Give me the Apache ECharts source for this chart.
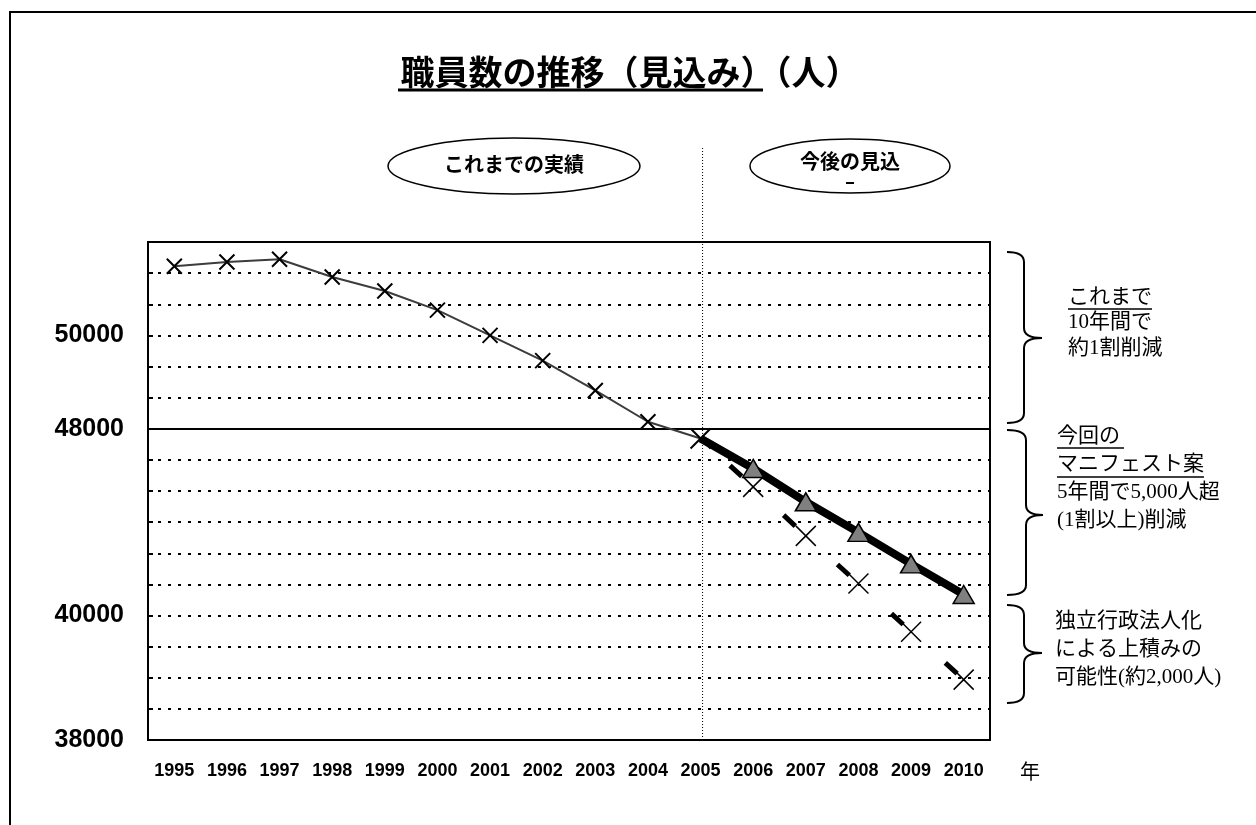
<!DOCTYPE html>
<html>
<head>
<meta charset="utf-8">
<script src="https://cdn.jsdelivr.net/npm/echarts@6/dist/echarts.min.js"></script>
<style>
  html, body { margin: 0; padding: 0; background: #fff; }
  #main { width: 1256px; height: 825px; }
</style>
</head>
<body>
<div id="main"></div>
<script>
// 年
const years = ['1995', '1996', '1997', '1998', '1999', '2000', '2001', '2002',
  '2003', '2004', '2005', '2006', '2007', '2008', '2009', '2010'];

// これまでの実績 (1995-2005)
const actual = [51480, 51570, 51630, 51250, 50950, 50540, 50000, 49460, 48820, 48150, 47580];
// マニフェスト案 (2005-2010)
const manifesto = [47580, 46300, 44870, 43560, 42210, 40900];
// 独立行政法人化による上積み (2005-2010)
const withAgencies = [47580, 45510, 43410, 41370, 39740, 38970];

// y axis labels shown on the original
const yTickLabels = [38000, 40000, 48000, 50000];

// the original axis is broken: each piece has its own scale
const yBreaks = [38000, 40000, 48000, 52000];
const yUnits = [0, 4, 10, 16];

function toAxis(v) {
  for (let i = 0; i < yBreaks.length - 1; i++) {
    if (v <= yBreaks[i + 1] || i === yBreaks.length - 2) {
      const t = (v - yBreaks[i]) / (yBreaks[i + 1] - yBreaks[i]);
      return yUnits[i] + t * (yUnits[i + 1] - yUnits[i]);
    }
  }
}

function labelAt(v) {
  for (const t of yTickLabels) {
    if (Math.abs(toAxis(t) - v) < 1e-6) return String(t);
  }
  return '';
}

const xMark = 'path://M0,0L10,10M10,0L0,10';
const pad = new Array(10).fill('-');

const chart = echarts.init(document.getElementById('main'));

var option = {
  animation: false,
  backgroundColor: '#ffffff',
  grid: {
    left: 148, right: 266, top: 242, bottom: 85,
    show: true, borderColor: '#000', borderWidth: 2
  },
  xAxis: {
    type: 'category',
    data: years,
    boundaryGap: true,
    axisLine: { lineStyle: { color: '#000', width: 2 } },
    axisTick: { inside: true, length: 6, lineStyle: { color: '#000', width: 2 } },
    axisLabel: {
      interval: 0, margin: 22, color: '#000',
      fontFamily: 'Liberation Sans', fontWeight: 'bold', fontSize: 18
    },
    splitLine: { show: false }
  },
  yAxis: {
    type: 'value',
    min: 0, max: 16, interval: 1,
    axisLine: { show: true, lineStyle: { color: '#000', width: 2 } },
    axisTick: { show: true, inside: true, length: 5, lineStyle: { color: '#000', width: 2 } },
    axisLabel: {
      margin: 24, color: '#000',
      fontFamily: 'Liberation Sans', fontWeight: 'bold', fontSize: 25,
      formatter: labelAt
    },
    splitLine: { show: true, lineStyle: { color: '#000', width: 2, type: [3, 7] } }
  },
  series: [
    {
      name: 'これまでの実績',
      type: 'line',
      data: actual.map(toAxis),
      symbol: xMark,
      symbolSize: function (v, p) { return p.dataIndex === 10 ? 20 : 15; },
      lineStyle: { color: '#3c3c3c', width: 2 },
      itemStyle: { color: 'transparent', borderColor: '#000', borderWidth: 2 },
      z: 5,
      markLine: {
        silent: true,
        symbol: 'none',
        label: { show: false },
        lineStyle: { color: '#000', width: 2, type: 'solid' },
        data: [{ yAxis: toAxis(48000) }]
      }
    },
    {
      name: 'マニフェスト案',
      type: 'line',
      data: pad.concat(manifesto.map(function (v, i) {
        return i === 0 ? { value: toAxis(v), symbol: 'none' } : toAxis(v);
      })),
      symbol: 'triangle',
      symbolSize: [21, 18],
      lineStyle: { color: '#000', width: 8 },
      itemStyle: { color: '#808080', borderColor: '#000', borderWidth: 1.5 },
      z: 3
    },
    {
      name: '独立行政法人化',
      type: 'line',
      data: pad.concat(withAgencies.map(function (v, i) {
        return i === 0 ? { value: toAxis(v), symbol: 'none' } : toAxis(v);
      })),
      symbol: xMark,
      symbolSize: 20,
      lineStyle: { color: '#000', width: 5, type: [16, 57], dashOffset: 33 },
      itemStyle: { color: 'transparent', borderColor: '#000', borderWidth: 1.5 },
      z: 4
    }
  ]
};

chart.setOption(option);

// decorations: title, ellipses, braces and notes
const jp = '"Noto Sans CJK JP"';
const note = '"Liberation Serif", "Noto Sans CJK JP"';
const x2005 = chart.convertToPixel({ xAxisIndex: 0 }, '2005');

function text(str, x, y, size, family, weight, align) {
  return {
    type: 'text', x: x, y: y, silent: true,
    style: {
      text: str, fill: '#000', fontSize: size, fontFamily: family,
      fontWeight: weight || 'normal', align: align || 'left', verticalAlign: 'middle'
    }
  };
}

function line(x1, y1, x2, y2, w, dash) {
  return {
    type: 'line', silent: true,
    shape: { x1: x1, y1: y1, x2: x2, y2: y2 },
    style: { stroke: '#000', lineWidth: w, lineDash: dash || null }
  };
}

function curve(x1, y1, cx, cy, x2, y2) {
  return {
    type: 'bezierCurve', silent: true,
    shape: { x1: x1, y1: y1, cpx1: cx, cpy1: cy, x2: x2, y2: y2 },
    style: { stroke: '#000', lineWidth: 2, fill: 'none' }
  };
}

// curly brace opening to the left, pointing right
function brace(x0, xv, xp, yTop, yMid, yBot) {
  const r = 10;
  return [
    curve(x0, yTop, xv, yTop, xv, yTop + r),
    line(xv, yTop + r, xv, yMid - r, 2),
    curve(xv, yMid - r, xv, yMid, xp, yMid),
    curve(xp, yMid, xv, yMid, xv, yMid + r),
    line(xv, yMid + r, xv, yBot - r, 2),
    curve(xv, yBot - r, xv, yBot, x0, yBot)
  ];
}

const notes = [
  ['これまで', 1068, 297], ['10年間で', 1068, 322], ['約1割削減', 1068, 348],
  ['今回の', 1057, 436], ['マニフェスト案', 1057, 464],
  ['5年間で5,000人超', 1057, 492], ['(1割以上)削減', 1057, 520],
  ['独立行政法人化', 1055, 621], ['による上積みの', 1055, 649], ['可能性(約2,000人)', 1055, 677]
];

let graphics = [
  {
    type: 'rect', silent: true,
    shape: { x: 10, y: 12, width: 1270, height: 840 },
    style: { fill: 'none', stroke: '#000', lineWidth: 2 }
  },
  text('職員数の推移（見込み）（人）', 630, 72, 34, jp, 'bold', 'center'),
  line(398, 90, 763, 90, 3),
  {
    type: 'ellipse', silent: true,
    shape: { cx: 514, cy: 166, rx: 126, ry: 28 },
    style: { fill: '#fff', stroke: '#000', lineWidth: 1.5 }
  },
  text('これまでの実績', 514, 164, 20, jp, 'bold', 'center'),
  {
    type: 'ellipse', silent: true,
    shape: { cx: 850, cy: 166, rx: 100, ry: 27 },
    style: { fill: '#fff', stroke: '#000', lineWidth: 1.5 }
  },
  text('今後の見込', 850, 161, 20, jp, 'bold', 'center'),
  line(846, 183, 854, 183, 2),
  line(x2005 + 2, 148, x2005 + 2, 740, 1, [1, 2]),
  line(1068, 309, 1152, 309, 1.5),
  line(1057, 448, 1124, 448, 1.5),
  line(1057, 477, 1204, 477, 1.5),
  text('年', 1030, 771, 20, jp, 'normal', 'center')
];

graphics = graphics
  .concat(brace(1007, 1024, 1042, 252, 338, 423))
  .concat(brace(1007, 1026, 1043, 430, 515, 595))
  .concat(brace(1007, 1024, 1042, 605, 653, 703));

notes.forEach(function (n) {
  graphics.push(text(n[0], n[1], n[2], 21, note));
});

chart.setOption({ graphic: graphics });
</script>
</body>
</html>
